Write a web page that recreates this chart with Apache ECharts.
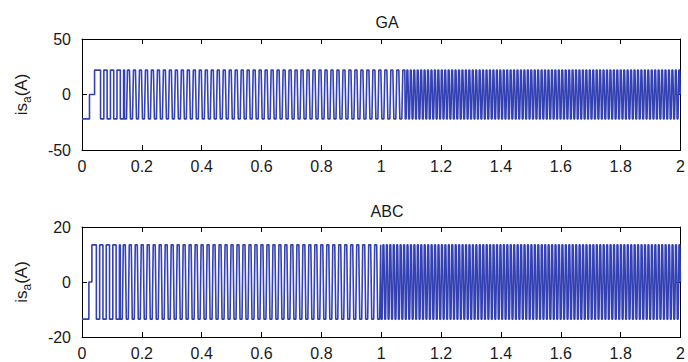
<!DOCTYPE html>
<html>
<head>
<meta charset="utf-8">
<script src="https://cdn.jsdelivr.net/npm/echarts@6/dist/echarts.min.js"></script>
<style>
  html, body { margin: 0; padding: 0; background: #fff; }
  #chart { width: 688px; height: 362px; }
</style>
</head>
<body>
<div id="chart"></div>
<script>
// Phase-a current, GA-tuned controller: amplitude (A)
const gaAmp = 22;
// Start-up levels (time s, level: -1/0/+1 of amplitude)
const gaLeadTimes = [0, 0.025, 0.042];
const gaLeadLevels = [-1, 0, 1];
// Quasi-square stretches: [start s, end s, period s, one-cycle shape]
const gaStretches = [
  [0.062, 0.142, 0.022, '--++'],
  [0.142, 1.080, 0.020, '-----0+++++0'],
  [1.080, 2.000, 0.0115, '-----0+++++0']
];

// Phase-a current, ABC-tuned controller
const abcAmp = 13.5;
const abcLeadTimes = [0, 0.023, 0.033];
const abcLeadLevels = [-1, 0, 1];
const abcStretches = [
  [0.048, 0.128, 0.022, '--++'],
  [0.128, 1.000, 0.020, '-----0+++++0'],
  [1.000, 2.000, 0.0115, '-----0+++++0']
];

const titles = ['GA', 'ABC'];
const yName = '{m|is}{s|a}{m|(A)}';

const LEVEL = { '+': 1, '0': 0, '-': -1 };

// Expand lead levels and stretches into explicit step corners
function buildSteps(amp, leadTimes, leadLevels, stretches) {
  const runs = [];
  for (let i = 0; i < leadTimes.length; i++) runs.push([leadTimes[i], leadLevels[i]]);
  stretches.forEach(([t0, t1, period, shape]) => {
    const dt = period / shape.length;
    let k = 0;
    for (let t = t0; t < t1 - 1e-9; t += dt, k++) {
      runs.push([t, LEVEL[shape[k % shape.length]]]);
    }
  });
  const pts = [];
  let prev = null;
  runs.forEach(([t, lv]) => {
    const v = lv * amp;
    if (prev !== null) pts.push([t, prev]);
    pts.push([t, v]);
    prev = v;
  });
  pts.push([2, prev]);
  return pts;
}

const gaData = buildSteps(gaAmp, gaLeadTimes, gaLeadLevels, gaStretches);
const abcData = buildSteps(abcAmp, abcLeadTimes, abcLeadLevels, abcStretches);

const FONT = 'Liberation Sans, Arial, sans-serif';
const LINE = '#3441b2';
const TEXT = '#1a1a1a';

const grids = [
  { left: 82, right: 6, top: 39, height: 111 },
  { left: 82, right: 6, top: 227, height: 110 }
];

const axisLine = { show: true, onZero: false, lineStyle: { color: '#000', width: 1 } };
const axisTick = { show: true, inside: true, length: 5, lineStyle: { color: '#000' } };

function xAxes(gi) {
  return [
    {
      type: 'value', gridIndex: gi, min: 0, max: 2, interval: 0.2,
      axisLine, axisTick,
      axisLabel: { margin: 8, fontSize: 16, fontFamily: FONT, color: TEXT,
        formatter: v => String(+v.toFixed(1)) },
      splitLine: { show: false }
    },
    {
      type: 'value', gridIndex: gi, position: 'top', min: 0, max: 2, interval: 0.2,
      axisLine, axisTick, axisLabel: { show: false }, splitLine: { show: false }
    }
  ];
}
function yAxes(gi, lim) {
  return [
    {
      type: 'value', gridIndex: gi, min: -lim, max: lim, interval: lim,
      axisLine, axisTick,
      axisLabel: { margin: 11, fontSize: 16, fontFamily: FONT, color: TEXT },
      splitLine: { show: false },
      name: yName, nameLocation: 'middle', nameRotate: 90, nameGap: 49,
      nameTextStyle: {
        fontFamily: FONT, color: TEXT,
        rich: {
          m: { fontSize: 17, fontFamily: FONT, color: TEXT, lineHeight: 24, verticalAlign: 'middle' },
          s: { fontSize: 12, fontFamily: FONT, color: TEXT, lineHeight: 12, verticalAlign: 'bottom' }
        }
      }
    },
    {
      type: 'value', gridIndex: gi, position: 'right', min: -lim, max: lim, interval: lim,
      axisLine, axisTick, axisLabel: { show: false }, splitLine: { show: false }
    }
  ];
}

// SVG keeps every sub-pixel step of the dense waveform
const chart = echarts.init(document.getElementById('chart'), null, { renderer: 'svg' });
chart.setOption({
  animation: false,
  backgroundColor: '#fff',
  title: [
    { text: titles[0], left: 382, top: 9, textAlign: 'center',
      textStyle: { fontSize: 16, fontWeight: 'normal', fontFamily: FONT, color: TEXT } },
    { text: titles[1], left: 382, top: 198, textAlign: 'center',
      textStyle: { fontSize: 16, fontWeight: 'normal', fontFamily: FONT, color: TEXT } }
  ],
  grid: grids,
  xAxis: xAxes(0).concat(xAxes(1)),
  yAxis: yAxes(0, 50).concat(yAxes(1, 20)),
  series: [
    { type: 'line', xAxisIndex: 0, yAxisIndex: 0, data: gaData, showSymbol: false,
      sampling: null, lineStyle: { color: LINE, width: 1.6 }, silent: true },
    { type: 'line', xAxisIndex: 2, yAxisIndex: 2, data: abcData, showSymbol: false,
      sampling: null, lineStyle: { color: LINE, width: 1.6 }, silent: true }
  ]
});
</script>
</body>
</html>
